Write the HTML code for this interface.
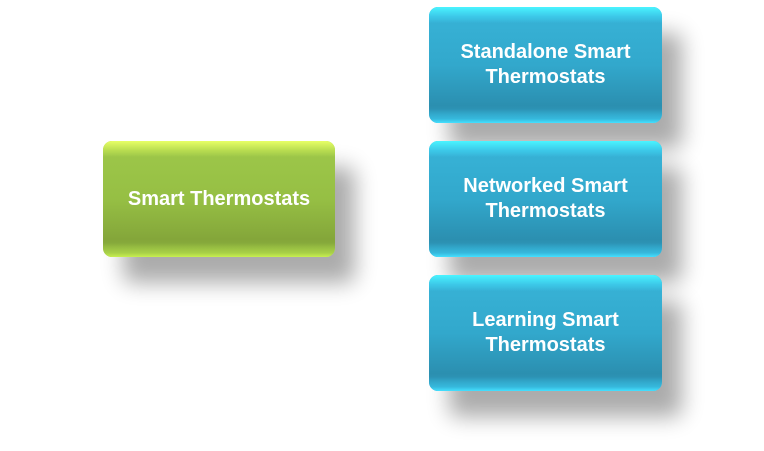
<!DOCTYPE html>
<html><head><meta charset="utf-8"><style>
html,body{margin:0;padding:0;background:#fff;width:764px;height:451px;overflow:hidden;position:relative}
.b{position:absolute;border-radius:9px;display:flex;align-items:center;justify-content:center;text-align:center;color:#fff;font-family:"Liberation Sans",sans-serif;font-weight:bold;font-size:20px;line-height:25px;box-shadow:20px 26px 22px rgba(0,0,0,0.33);overflow:hidden}
.b span{position:relative;z-index:2}
.b:before{content:"";position:absolute;left:0;right:0;top:0;height:16px;z-index:1}
.b:after{content:"";position:absolute;left:0;right:0;bottom:0;height:14px;z-index:1}
.g{background:linear-gradient(#9ec84a,#96bf44 50%,#84a63a 85%,#8fb63e);}
.g:before{background:linear-gradient(#e8ff66,#b8dc50 60%,rgba(158,200,74,0));}
.g:after{background:linear-gradient(rgba(132,166,58,0),#a8d048 70%,#c8f050);}
.c{background:linear-gradient(#38b4d8,#32a8cc 50%,#2b8fb0 85%,#30a0c4);}
.c:before{background:linear-gradient(#4af4ff,#3cc8e8 60%,rgba(56,180,216,0));}
.c:after{background:linear-gradient(rgba(43,143,176,0),#36b8dc 70%,#44e0ff);}
</style></head><body>
<div class="b g" style="left:103px;top:141px;width:232px;height:116px"><span>Smart Thermostats</span></div>
<div class="b c" style="left:429px;top:7px;width:233px;height:116px"><span>Standalone Smart<br>Thermostats</span></div>
<div class="b c" style="left:429px;top:141px;width:233px;height:116px"><span>Networked Smart<br>Thermostats</span></div>
<div class="b c" style="left:429px;top:275px;width:233px;height:116px"><span>Learning Smart<br>Thermostats</span></div>
</body></html>
